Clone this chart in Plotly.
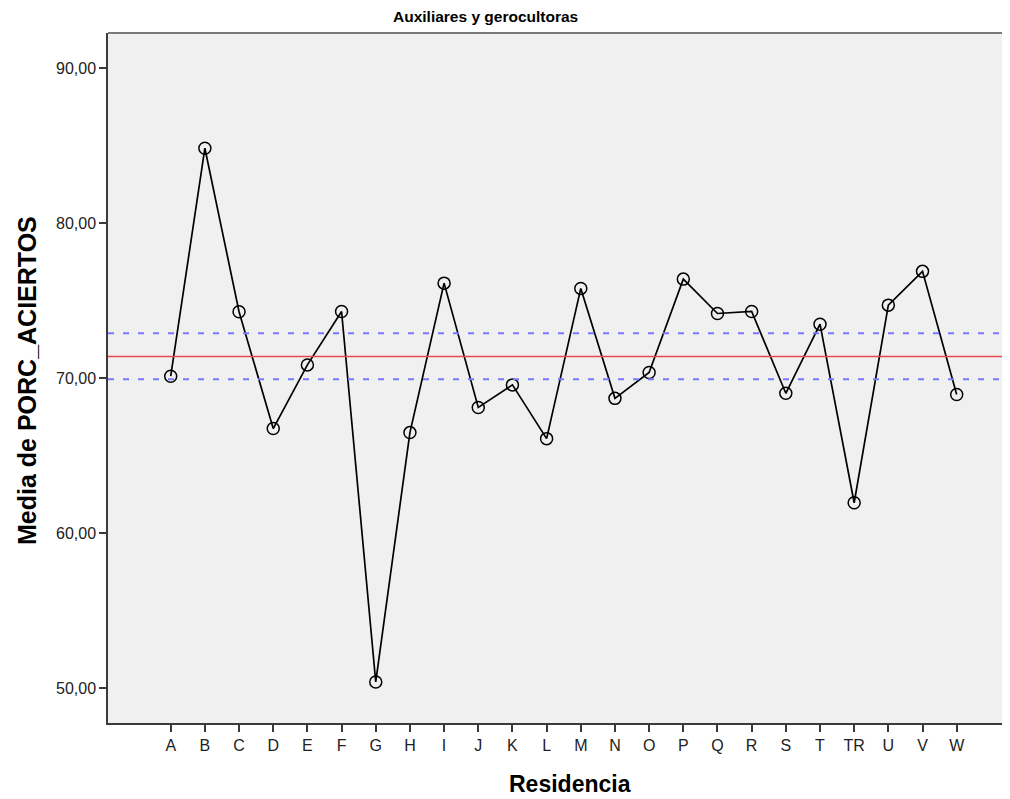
import plotly.graph_objects as go

categories = ["A", "B", "C", "D", "E", "F", "G", "H", "I", "J", "K", "L", "M",
              "N", "O", "P", "Q", "R", "S", "T", "TR", "U", "V", "W"]
means = [70.13, 84.85, 74.29, 66.75, 70.86, 74.31, 50.39, 66.49, 76.14, 68.11,
         69.57, 66.10, 75.80, 68.70, 70.37, 76.40, 74.18, 74.31, 69.03, 73.49,
         61.96, 74.72, 76.90, 68.95]
center_line = 71.40
upper_limit = 72.91
lower_limit = 69.94
y_ticks = [50, 60, 70, 80, 90]

x_idx = list(range(len(categories)))
FONT = "Liberation Sans, Arial, sans-serif"

W, H = 1002, 791
ML, MR, MT, MB = 100, 0, 25, 76
PW, PH = W - ML - MR, H - MT - MB


def px_x(x):  # figure pixel -> paper
    return (x - ML) / PW


def px_y(y):
    return (H - MB - y) / PH


fig = go.Figure()
fig.add_trace(go.Scatter(
    x=x_idx, y=means, mode="lines+markers",
    line=dict(color="black", width=1.7),
    marker=dict(symbol="circle-open", size=12, color="black", line=dict(width=1.5)),
    showlegend=False, hoverinfo="x+y",
))

fig.add_hline(y=center_line, line=dict(color="#e8474f", width=1.6))
for v in (upper_limit, lower_limit):
    fig.add_hline(y=v, line=dict(color="#7878ff", width=2, dash="6px,9px"))

fig.add_shape(type="line", xref="paper", yref="paper", x0=0, x1=1, y0=1, y1=1,
              line=dict(color="#7a7a7a", width=2))

fig.add_annotation(text="<b>Residencia</b>", xref="paper", yref="paper",
                   x=px_x(562), y=px_y(776), xanchor="center", yanchor="middle",
                   showarrow=False, font=dict(size=23, family=FONT, color="black"))
fig.add_annotation(text="<b>Media de PORC_ACIERTOS</b>", xref="paper", yref="paper",
                   x=px_x(19), y=px_y(373), xanchor="center", yanchor="middle",
                   textangle=-90, showarrow=False,
                   font=dict(size=25, family=FONT, color="black"))
fig.add_annotation(text="<b>Auxiliares y gerocultoras</b>", xref="paper", yref="paper",
                   x=px_x(477), y=px_y(9), xanchor="center", yanchor="middle",
                   showarrow=False, font=dict(size=15.5, family=FONT, color="black"))

fig.update_layout(
    width=W, height=H,
    margin=dict(l=ML, r=MR, t=MT, b=MB),
    paper_bgcolor="white", plot_bgcolor="#f0f0f0",
    font=dict(family=FONT, color="black"),
    xaxis=dict(
        range=[-1.835, 24.56], tickmode="array", tickvals=x_idx, ticktext=categories,
        showgrid=False, zeroline=False, showline=True, linecolor="#3a3a3a", linewidth=1.5,
        ticks="outside", ticklen=7, tickwidth=1.5, tickcolor="#3a3a3a",
        tickfont=dict(size=16, family=FONT, color="#222"),
    ),
    yaxis=dict(
        range=[47.74, 92.29], tickmode="array", tickvals=y_ticks,
        ticktext=[f"{v:.2f}".replace(".", ",") for v in y_ticks],
        showgrid=False, zeroline=False, showline=True, linecolor="#3a3a3a", linewidth=1.5,
        ticks="outside", ticklen=7, tickwidth=1.5, tickcolor="#3a3a3a",
        tickfont=dict(size=16, family=FONT, color="#222"),
    ),
)

fig.write_html("out.html")
